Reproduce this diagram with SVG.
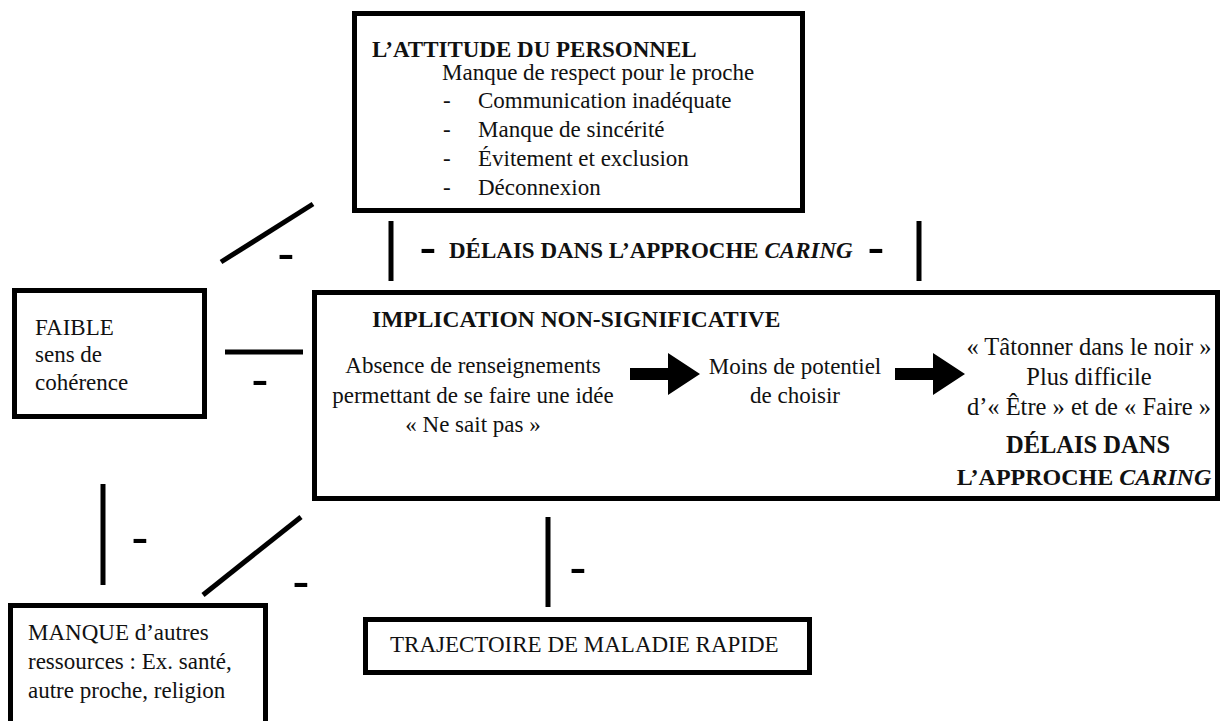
<svg xmlns="http://www.w3.org/2000/svg" width="1222" height="721" viewBox="0 0 1222 721">
  <style>
    .box{fill:#fff;stroke:#000;stroke-width:5}
    .t{font-family:"Liberation Serif","Times New Roman",serif;font-size:23px;fill:#111}
    .b{font-weight:bold}
    .c{text-anchor:middle}
    .big{font-size:24.5px}
    .link{stroke:#000;stroke-width:5;fill:none}
    .sign{font-family:"Liberation Sans",Arial,sans-serif;font-size:52px;text-anchor:middle;fill:#000}
    .arrow{fill:#000}
  </style>
  <defs>
    <!-- block arrow, origin at tail centre, length 70 -->
    <path id="blockArrow" d="M0,-6 H38 V-21 L70,0 L38,21 V6 H0 Z"/>
  </defs>
  <rect width="1222" height="721" fill="#fff"/>

  <!-- connectors with their minus signs -->
  <g id="connectors">
    <line class="link" x1="313" y1="204" x2="221" y2="262"/>
    <text class="sign" x="286" y="271">-</text>

    <line class="link" x1="391" y1="221" x2="391" y2="281"/>
    <line class="link" x1="919" y1="221" x2="919" y2="281"/>
    <text class="sign" x="428" y="265">-</text>
    <text class="t b" x="449" y="258">DÉLAIS DANS L’APPROCHE <tspan font-style="italic">CARING</tspan></text>
    <text class="sign" x="876" y="265">-</text>

    <line class="link" x1="225" y1="352" x2="303" y2="352"/>
    <text class="sign" x="260" y="397">-</text>

    <line class="link" x1="103" y1="484" x2="103" y2="585"/>
    <text class="sign" x="140" y="555">-</text>

    <line class="link" x1="301" y1="517" x2="203" y2="595"/>
    <text class="sign" x="301" y="599">-</text>

    <line class="link" x1="548" y1="517" x2="548" y2="607"/>
    <text class="sign" x="578" y="585">-</text>
  </g>

  <!-- staff attitude -->
  <g id="attitude">
    <rect class="box" x="354.5" y="13.5" width="448" height="197"/>
    <text class="t b" x="372" y="57">L’ATTITUDE DU PERSONNEL</text>
    <text class="t" x="442" y="80">Manque de respect pour le proche</text>
    <text class="t" x="443" y="108">-</text>
    <text class="t" x="478" y="108">Communication inadéquate</text>
    <text class="t" x="443" y="137">-</text>
    <text class="t" x="478" y="137">Manque de sincérité</text>
    <text class="t" x="443" y="166">-</text>
    <text class="t" x="478" y="166">Évitement et exclusion</text>
    <text class="t" x="443" y="195">-</text>
    <text class="t" x="478" y="195">Déconnexion</text>
  </g>

  <!-- weak sense of coherence -->
  <g id="coherence">
    <rect class="box" x="14.5" y="290.5" width="190" height="126"/>
    <text class="t" x="35" y="335">FAIBLE</text>
    <text class="t" x="35" y="362">sens de</text>
    <text class="t" x="35" y="390">cohérence</text>
  </g>

  <!-- non-significant involvement -->
  <g id="implication">
    <rect class="box" x="314.5" y="292.5" width="903" height="206"/>
    <text class="t b" x="372" y="327" style="font-size:23.5px">IMPLICATION NON-SIGNIFICATIVE</text>
    <text class="t c" x="473" y="373">Absence de renseignements</text>
    <text class="t c" x="473" y="403">permettant de se faire une idée</text>
    <text class="t c" x="473" y="432">« Ne sait pas »</text>
    <use href="#blockArrow" class="arrow" x="630" y="374"/>
    <text class="t c" x="795" y="374">Moins de potentiel</text>
    <text class="t c" x="795" y="403">de choisir</text>
    <use href="#blockArrow" class="arrow" x="895" y="374"/>
    <text class="t c big" x="1089" y="355">« Tâtonner dans le noir »</text>
    <text class="t c big" x="1089" y="385">Plus difficile</text>
    <text class="t c big" x="1089" y="415">d’« Être » et de « Faire »</text>
    <text class="t c b big" x="1088" y="453">DÉLAIS DANS</text>
    <text class="t c b" x="1084" y="485" style="font-size:24px">L’APPROCHE <tspan font-style="italic">CARING</tspan></text>
  </g>

  <!-- lack of other resources -->
  <g id="ressources">
    <rect class="box" x="10.5" y="605.5" width="255" height="140"/>
    <text class="t" x="28" y="640">MANQUE d’autres</text>
    <text class="t" x="28" y="669">ressources : Ex. santé,</text>
    <text class="t" x="28" y="698">autre proche, religion</text>
  </g>

  <!-- fast illness trajectory -->
  <g id="trajectoire">
    <rect class="box" x="365.5" y="619.5" width="444" height="53"/>
    <text class="t" x="390" y="652">TRAJECTOIRE DE MALADIE RAPIDE</text>
  </g>
</svg>
